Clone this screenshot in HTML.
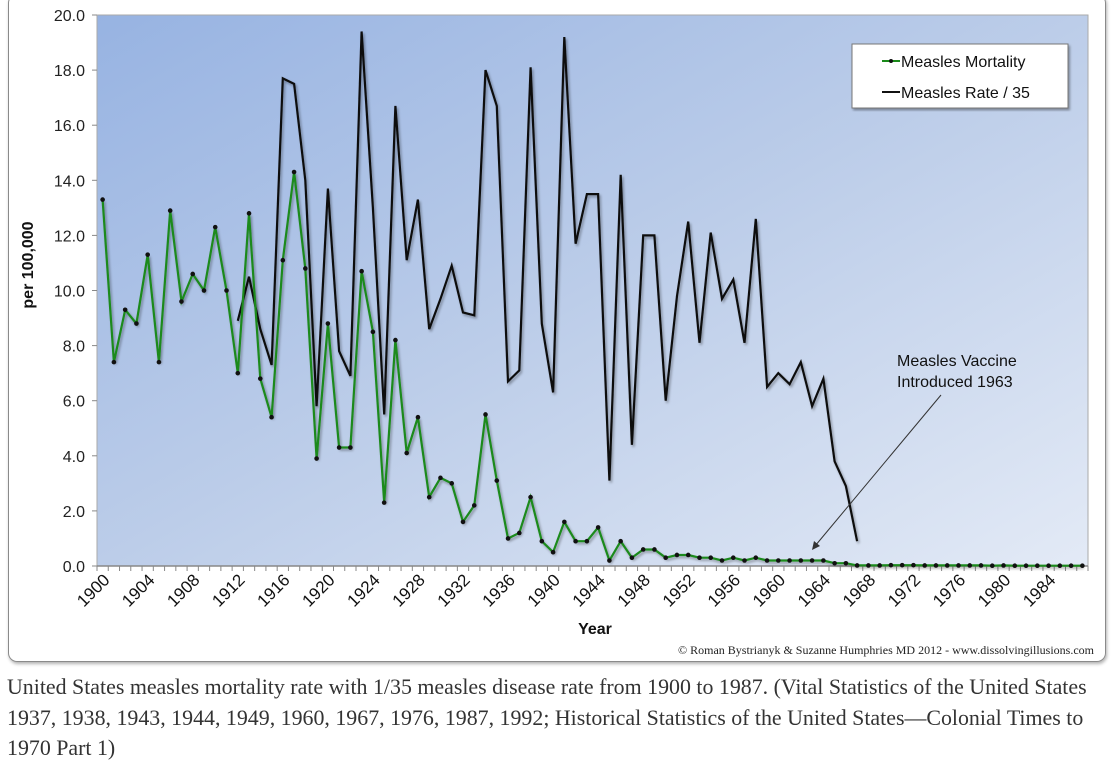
<!DOCTYPE html>
<html><head><meta charset="utf-8">
<style>
body{margin:0;background:#fff;width:1114px;height:778px;overflow:hidden;font-family:"Liberation Sans",sans-serif;}
#box{position:absolute;left:8px;top:-6px;width:1096px;height:666px;border:1.5px solid #8a8a8a;border-radius:9px;box-shadow:1px 2px 3px rgba(0,0,0,0.3);}
#cap{position:absolute;left:7px;top:672px;width:1110px;white-space:nowrap;font-family:"Liberation Serif",serif;font-size:21.9px;line-height:30.6px;color:#333;}
</style></head><body>
<div id="box"></div>
<svg id="chart" width="1114" height="665" style="position:absolute;left:0;top:0">
<defs>
<linearGradient id="bg" x1="0" y1="0" x2="1" y2="1">
<stop offset="0" stop-color="#97b3e2"/><stop offset="0.5" stop-color="#bccde9"/><stop offset="1" stop-color="#e3eaf6"/>
</linearGradient>
<filter id="sh" x="-5%" y="-5%" width="110%" height="110%"><feDropShadow dx="1.5" dy="2" stdDeviation="1.2" flood-color="#000" flood-opacity="0.35"/></filter>
</defs>
<rect x="97" y="15" width="991" height="551" fill="url(#bg)" stroke="#aaa" stroke-width="1"/>
<g id="axes"></g>
<g id="series"></g>
<g>
<rect x="852" y="44" width="216" height="64" fill="#fff" stroke="#777" filter="url(#sh)"/>
<line x1="882" y1="61" x2="900" y2="61" stroke="#1a8a1a" stroke-width="2"/><circle cx="891" cy="61" r="2" fill="#111"/>
<text x="901" y="67" font-size="16" fill="#111">Measles Mortality</text>
<line x1="882" y1="92" x2="900" y2="92" stroke="#111" stroke-width="2"/>
<text x="901" y="98" font-size="16" fill="#111">Measles Rate / 35</text>
</g>
<g>
<text x="897" y="366" font-size="16" fill="#111">Measles Vaccine</text>
<text x="897" y="387" font-size="16" fill="#111">Introduced 1963</text>
<line x1="941" y1="395" x2="815" y2="546" stroke="#333" stroke-width="1"/>
<path d="M812 550 L814 541 L820 546 Z" fill="#333"/>
</g>
<text x="595" y="634" font-size="16" font-weight="bold" text-anchor="middle" fill="#111">Year</text>
<text transform="translate(33,265) rotate(-90)" font-size="16" font-weight="bold" text-anchor="middle" fill="#111">per 100,000</text>
<text x="1094" y="654" font-size="12" text-anchor="end" fill="#222" font-family="Liberation Serif,serif">© Roman Bystrianyk &amp; Suzanne Humphries MD 2012 - www.dissolvingillusions.com</text>
</svg>
<div id="cap">United States measles mortality rate with 1/35 measles disease rate from 1900 to 1987. (Vital Statistics of the United States<br>1937, 1938, 1943, 1944, 1949, 1960, 1967, 1976, 1987, 1992; Historical Statistics of the United States—Colonial Times to<br>1970 Part 1)</div>
<script>
const years = [];
for (let y = 1900; y <= 1987; y++) years.push(y);
const mortality = [13.3,7.4,9.3,8.8,11.3,7.4,12.9,9.6,10.6,10.0,12.3,10.0,7.0,12.8,6.8,5.4,11.1,14.3,10.8,3.9,8.8,4.3,4.3,10.7,8.5,2.3,8.2,4.1,5.4,2.5,3.2,3.0,1.6,2.2,5.5,3.1,1.0,1.2,2.5,0.9,0.5,1.6,0.9,0.9,1.4,0.2,0.9,0.3,0.6,0.6,0.3,0.4,0.4,0.3,0.3,0.2,0.3,0.2,0.3,0.2,0.2,0.2,0.2,0.2,0.2,0.1,0.1,0.02,0.02,0.02,0.03,0.03,0.03,0.02,0.02,0.02,0.02,0.02,0.02,0.01,0.02,0.01,0.01,0.01,0.01,0.01,0.01,0.01];
const rateStart = 1912;
const rate35 = [8.9,10.5,8.6,7.3,17.7,17.5,14.0,5.8,13.7,7.8,6.9,19.4,13.0,5.5,16.7,11.1,13.3,8.6,9.7,10.9,9.2,9.1,18.0,16.7,6.7,7.1,18.1,8.8,6.3,19.2,11.7,13.5,13.5,3.1,14.2,4.4,12.0,12.0,6.0,9.8,12.5,8.1,12.1,9.7,10.4,8.1,12.6,6.5,7.0,6.6,7.4,5.8,6.8,3.8,2.9,0.9];
const yTicks = ["0.0","2.0","4.0","6.0","8.0","10.0","12.0","14.0","16.0","18.0","20.0"];

const NS = "http://www.w3.org/2000/svg";
const X0 = 97, X1 = 1088, Y0 = 566, Y1 = 15, YMAX = 20;
const bw = (X1 - X0) / years.length;
const xs = i => X0 + (i + 0.5) * bw;
const ys = v => Y0 - v / YMAX * (Y0 - Y1);
function mk(tag, attrs, parent) { const e = document.createElementNS(NS, tag); for (const k in attrs) e.setAttribute(k, attrs[k]); parent.appendChild(e); return e; }
const axes = document.getElementById('axes'), series = document.getElementById('series');

mk('line', {x1: X0, y1: Y0, x2: X1, y2: Y0, stroke: '#888', 'stroke-width': 1.5}, axes);
yTicks.forEach(t => {
  const v = parseFloat(t), y = ys(v);
  const tk = mk('line', {x1: X0 - 5, y1: y, x2: X0, y2: y, stroke: '#888'}, axes);
  
  
  const tx = mk('text', {x: X0 - 12, y: y + 6, 'font-size': 16, 'text-anchor': 'end', fill: '#222'}, axes);
  tx.textContent = t;
  
  
});
for (let i = 0; i <= years.length; i++) {
  const x = X0 + i * bw;
  const tk = mk('line', {x1: x, y1: Y0, x2: x, y2: Y0 + 5, stroke: '#888'}, axes);
  
  
}
years.forEach((yr, i) => {
  if ((yr - 1900) % 4 !== 0) return;
  const x = xs(i);
  const tx = mk('text', {transform: `translate(${x + 8},${Y0 + 15}) rotate(-45)`, 'font-size': 17, 'text-anchor': 'end', fill: '#111'}, axes);
  tx.textContent = yr;
  
  
});

const rp = rate35.map((v, j) => `${xs(rateStart - 1900 + j).toFixed(1)},${ys(v).toFixed(1)}`).join(' ');
const rl = mk('polyline', {points: rp, fill: 'none', stroke: '#111', 'stroke-width': 2.2, 'stroke-linejoin': 'miter', filter: 'url(#sh)'}, series);



const mp = mortality.map((v, i) => `${xs(i).toFixed(1)},${ys(v).toFixed(1)}`).join(' ');
const ml = mk('polyline', {points: mp, fill: 'none', stroke: '#1a8a1a', 'stroke-width': 2.2, filter: 'url(#sh)'}, series);


mortality.forEach((v, i) => {
  const c = mk('circle', {cx: xs(i), cy: ys(v), r: 2.3, fill: '#111'}, series);
  
  
});
</script>
</body></html>
